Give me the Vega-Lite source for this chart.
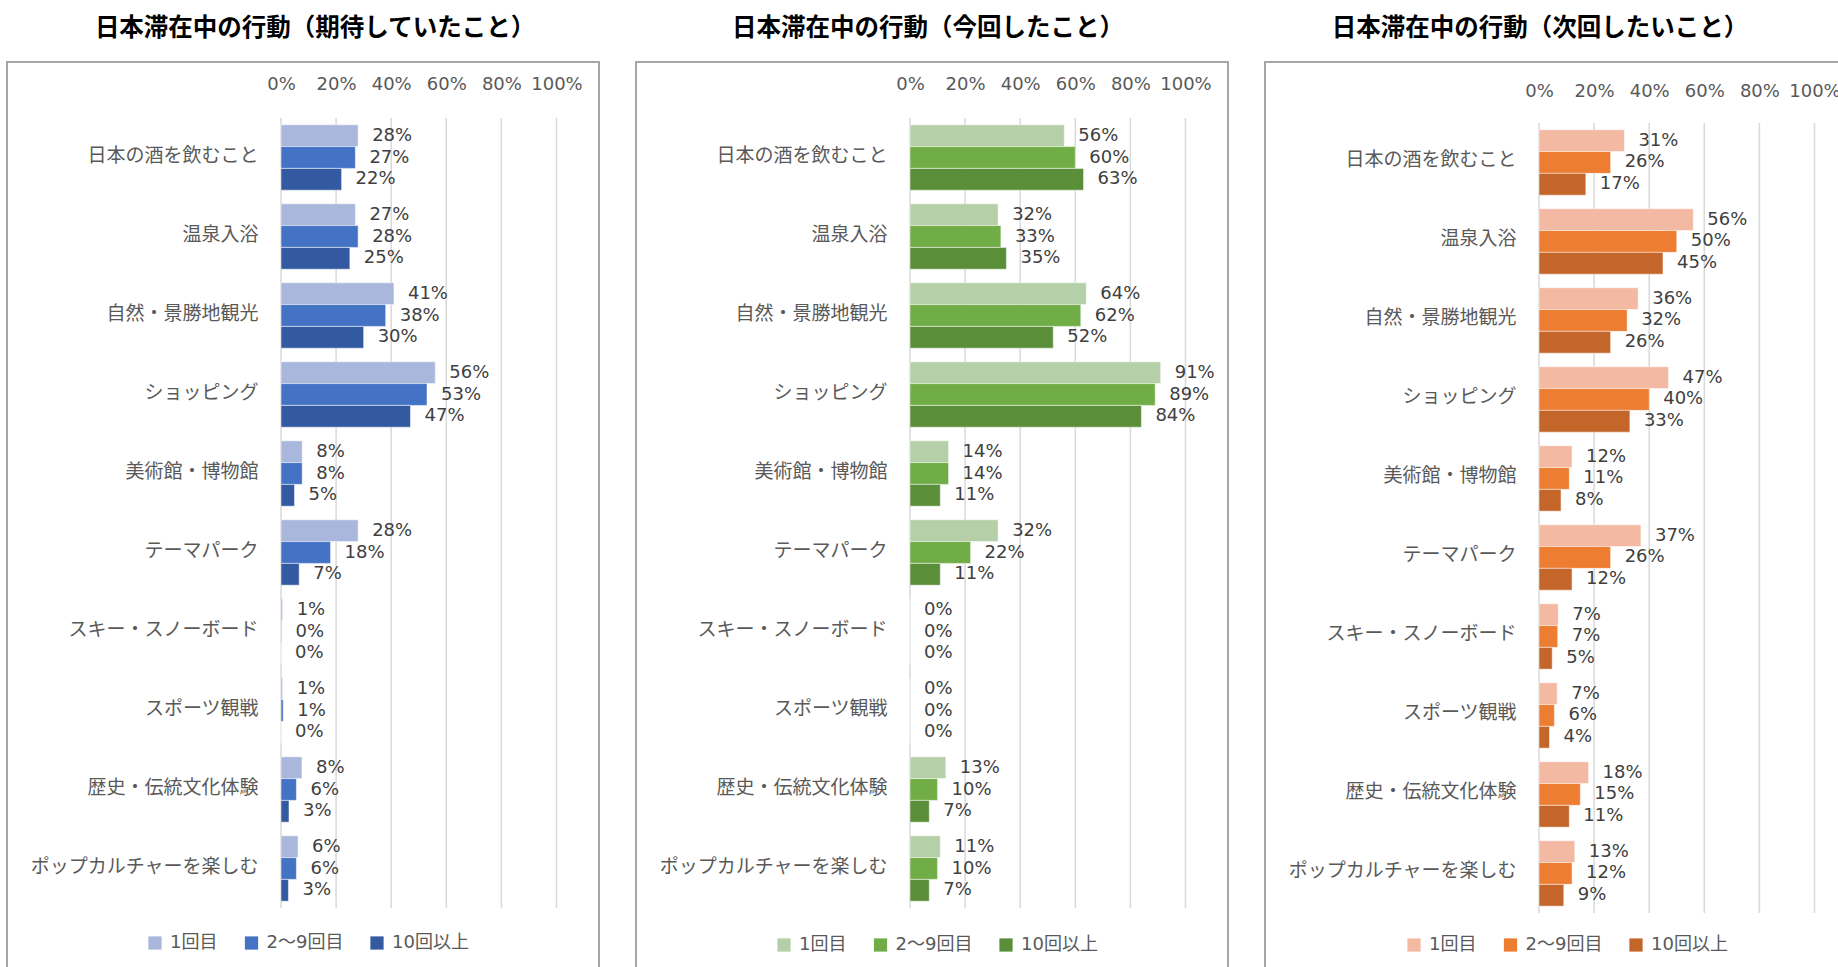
{
  "$schema": "https://vega.github.io/schema/vega-lite/v6.json",
  "padding": {"left": 6, "top": 14, "right": 0, "bottom": 0},
  "background": "#ffffff",
  "config": {
    "font": "DejaVu Sans, Noto Sans CJK JP",
    "view": {"stroke": "#A6A6A6", "strokeWidth": 2},
    "title": {"font": "Noto Sans CJK JP", "fontSize": 24.5, "fontWeight": "bold", "color": "#000000", "offset": 21, "frame": "group", "anchor": "middle"},
    "axis": {"labelFont": "DejaVu Sans, Noto Sans CJK JP", "labelFontSize": 18, "labelColor": "#595959", "domain": false, "ticks": false, "grid": false, "title": null, "labelPadding": 0},
    "legend": {"labelFont": "DejaVu Sans, Noto Sans CJK JP", "labelFontSize": 18, "labelColor": "#595959"}
  },
  "datasets": {
    "d": [
      {"p": 1, "c": "日本の酒を飲むこと", "g": "1回目", "v": 0.28},
      {"p": 1, "c": "日本の酒を飲むこと", "g": "2～9回目", "v": 0.27},
      {"p": 1, "c": "日本の酒を飲むこと", "g": "10回以上", "v": 0.22},
      {"p": 1, "c": "温泉入浴", "g": "1回目", "v": 0.27},
      {"p": 1, "c": "温泉入浴", "g": "2～9回目", "v": 0.28},
      {"p": 1, "c": "温泉入浴", "g": "10回以上", "v": 0.25},
      {"p": 1, "c": "自然・景勝地観光", "g": "1回目", "v": 0.41},
      {"p": 1, "c": "自然・景勝地観光", "g": "2～9回目", "v": 0.38},
      {"p": 1, "c": "自然・景勝地観光", "g": "10回以上", "v": 0.30},
      {"p": 1, "c": "ショッピング", "g": "1回目", "v": 0.56},
      {"p": 1, "c": "ショッピング", "g": "2～9回目", "v": 0.53},
      {"p": 1, "c": "ショッピング", "g": "10回以上", "v": 0.47},
      {"p": 1, "c": "美術館・博物館", "g": "1回目", "v": 0.077},
      {"p": 1, "c": "美術館・博物館", "g": "2～9回目", "v": 0.077},
      {"p": 1, "c": "美術館・博物館", "g": "10回以上", "v": 0.049},
      {"p": 1, "c": "テーマパーク", "g": "1回目", "v": 0.28},
      {"p": 1, "c": "テーマパーク", "g": "2～9回目", "v": 0.18},
      {"p": 1, "c": "テーマパーク", "g": "10回以上", "v": 0.066},
      {"p": 1, "c": "スキー・スノーボード", "g": "1回目", "v": 0.006},
      {"p": 1, "c": "スキー・スノーボード", "g": "2～9回目", "v": 0.002},
      {"p": 1, "c": "スキー・スノーボード", "g": "10回以上", "v": 0},
      {"p": 1, "c": "スポーツ観戦", "g": "1回目", "v": 0.006},
      {"p": 1, "c": "スポーツ観戦", "g": "2～9回目", "v": 0.008},
      {"p": 1, "c": "スポーツ観戦", "g": "10回以上", "v": 0},
      {"p": 1, "c": "歴史・伝統文化体験", "g": "1回目", "v": 0.076},
      {"p": 1, "c": "歴史・伝統文化体験", "g": "2～9回目", "v": 0.056},
      {"p": 1, "c": "歴史・伝統文化体験", "g": "10回以上", "v": 0.029},
      {"p": 1, "c": "ポップカルチャーを楽しむ", "g": "1回目", "v": 0.062},
      {"p": 1, "c": "ポップカルチャーを楽しむ", "g": "2～9回目", "v": 0.056},
      {"p": 1, "c": "ポップカルチャーを楽しむ", "g": "10回以上", "v": 0.027},
      {"p": 2, "c": "日本の酒を飲むこと", "g": "1回目", "v": 0.56},
      {"p": 2, "c": "日本の酒を飲むこと", "g": "2～9回目", "v": 0.60},
      {"p": 2, "c": "日本の酒を飲むこと", "g": "10回以上", "v": 0.63},
      {"p": 2, "c": "温泉入浴", "g": "1回目", "v": 0.32},
      {"p": 2, "c": "温泉入浴", "g": "2～9回目", "v": 0.33},
      {"p": 2, "c": "温泉入浴", "g": "10回以上", "v": 0.35},
      {"p": 2, "c": "自然・景勝地観光", "g": "1回目", "v": 0.64},
      {"p": 2, "c": "自然・景勝地観光", "g": "2～9回目", "v": 0.62},
      {"p": 2, "c": "自然・景勝地観光", "g": "10回以上", "v": 0.52},
      {"p": 2, "c": "ショッピング", "g": "1回目", "v": 0.91},
      {"p": 2, "c": "ショッピング", "g": "2～9回目", "v": 0.89},
      {"p": 2, "c": "ショッピング", "g": "10回以上", "v": 0.84},
      {"p": 2, "c": "美術館・博物館", "g": "1回目", "v": 0.14},
      {"p": 2, "c": "美術館・博物館", "g": "2～9回目", "v": 0.14},
      {"p": 2, "c": "美術館・博物館", "g": "10回以上", "v": 0.11},
      {"p": 2, "c": "テーマパーク", "g": "1回目", "v": 0.32},
      {"p": 2, "c": "テーマパーク", "g": "2～9回目", "v": 0.22},
      {"p": 2, "c": "テーマパーク", "g": "10回以上", "v": 0.11},
      {"p": 2, "c": "スキー・スノーボード", "g": "1回目", "v": 0},
      {"p": 2, "c": "スキー・スノーボード", "g": "2～9回目", "v": 0},
      {"p": 2, "c": "スキー・スノーボード", "g": "10回以上", "v": 0},
      {"p": 2, "c": "スポーツ観戦", "g": "1回目", "v": 0},
      {"p": 2, "c": "スポーツ観戦", "g": "2～9回目", "v": 0},
      {"p": 2, "c": "スポーツ観戦", "g": "10回以上", "v": 0},
      {"p": 2, "c": "歴史・伝統文化体験", "g": "1回目", "v": 0.13},
      {"p": 2, "c": "歴史・伝統文化体験", "g": "2～9回目", "v": 0.10},
      {"p": 2, "c": "歴史・伝統文化体験", "g": "10回以上", "v": 0.07},
      {"p": 2, "c": "ポップカルチャーを楽しむ", "g": "1回目", "v": 0.11},
      {"p": 2, "c": "ポップカルチャーを楽しむ", "g": "2～9回目", "v": 0.10},
      {"p": 2, "c": "ポップカルチャーを楽しむ", "g": "10回以上", "v": 0.07},
      {"p": 3, "c": "日本の酒を飲むこと", "g": "1回目", "v": 0.31},
      {"p": 3, "c": "日本の酒を飲むこと", "g": "2～9回目", "v": 0.26},
      {"p": 3, "c": "日本の酒を飲むこと", "g": "10回以上", "v": 0.17},
      {"p": 3, "c": "温泉入浴", "g": "1回目", "v": 0.56},
      {"p": 3, "c": "温泉入浴", "g": "2～9回目", "v": 0.50},
      {"p": 3, "c": "温泉入浴", "g": "10回以上", "v": 0.45},
      {"p": 3, "c": "自然・景勝地観光", "g": "1回目", "v": 0.36},
      {"p": 3, "c": "自然・景勝地観光", "g": "2～9回目", "v": 0.32},
      {"p": 3, "c": "自然・景勝地観光", "g": "10回以上", "v": 0.26},
      {"p": 3, "c": "ショッピング", "g": "1回目", "v": 0.47},
      {"p": 3, "c": "ショッピング", "g": "2～9回目", "v": 0.40},
      {"p": 3, "c": "ショッピング", "g": "10回以上", "v": 0.33},
      {"p": 3, "c": "美術館・博物館", "g": "1回目", "v": 0.12},
      {"p": 3, "c": "美術館・博物館", "g": "2～9回目", "v": 0.11},
      {"p": 3, "c": "美術館・博物館", "g": "10回以上", "v": 0.08},
      {"p": 3, "c": "テーマパーク", "g": "1回目", "v": 0.37},
      {"p": 3, "c": "テーマパーク", "g": "2～9回目", "v": 0.26},
      {"p": 3, "c": "テーマパーク", "g": "10回以上", "v": 0.12},
      {"p": 3, "c": "スキー・スノーボード", "g": "1回目", "v": 0.07},
      {"p": 3, "c": "スキー・スノーボード", "g": "2～9回目", "v": 0.068},
      {"p": 3, "c": "スキー・スノーボード", "g": "10回以上", "v": 0.048},
      {"p": 3, "c": "スポーツ観戦", "g": "1回目", "v": 0.066},
      {"p": 3, "c": "スポーツ観戦", "g": "2～9回目", "v": 0.056},
      {"p": 3, "c": "スポーツ観戦", "g": "10回以上", "v": 0.038},
      {"p": 3, "c": "歴史・伝統文化体験", "g": "1回目", "v": 0.18},
      {"p": 3, "c": "歴史・伝統文化体験", "g": "2～9回目", "v": 0.15},
      {"p": 3, "c": "歴史・伝統文化体験", "g": "10回以上", "v": 0.11},
      {"p": 3, "c": "ポップカルチャーを楽しむ", "g": "1回目", "v": 0.13},
      {"p": 3, "c": "ポップカルチャーを楽しむ", "g": "2～9回目", "v": 0.12},
      {"p": 3, "c": "ポップカルチャーを楽しむ", "g": "10回以上", "v": 0.09}
    ],
    "grid": [
      {"c": "日本の酒を飲むこと", "v": 0}, {"c": "日本の酒を飲むこと", "v": 0.2}, {"c": "日本の酒を飲むこと", "v": 0.4}, {"c": "日本の酒を飲むこと", "v": 0.6}, {"c": "日本の酒を飲むこと", "v": 0.8}, {"c": "日本の酒を飲むこと", "v": 1},
      {"c": "温泉入浴", "v": 0}, {"c": "温泉入浴", "v": 0.2}, {"c": "温泉入浴", "v": 0.4}, {"c": "温泉入浴", "v": 0.6}, {"c": "温泉入浴", "v": 0.8}, {"c": "温泉入浴", "v": 1},
      {"c": "自然・景勝地観光", "v": 0}, {"c": "自然・景勝地観光", "v": 0.2}, {"c": "自然・景勝地観光", "v": 0.4}, {"c": "自然・景勝地観光", "v": 0.6}, {"c": "自然・景勝地観光", "v": 0.8}, {"c": "自然・景勝地観光", "v": 1},
      {"c": "ショッピング", "v": 0}, {"c": "ショッピング", "v": 0.2}, {"c": "ショッピング", "v": 0.4}, {"c": "ショッピング", "v": 0.6}, {"c": "ショッピング", "v": 0.8}, {"c": "ショッピング", "v": 1},
      {"c": "美術館・博物館", "v": 0}, {"c": "美術館・博物館", "v": 0.2}, {"c": "美術館・博物館", "v": 0.4}, {"c": "美術館・博物館", "v": 0.6}, {"c": "美術館・博物館", "v": 0.8}, {"c": "美術館・博物館", "v": 1},
      {"c": "テーマパーク", "v": 0}, {"c": "テーマパーク", "v": 0.2}, {"c": "テーマパーク", "v": 0.4}, {"c": "テーマパーク", "v": 0.6}, {"c": "テーマパーク", "v": 0.8}, {"c": "テーマパーク", "v": 1},
      {"c": "スキー・スノーボード", "v": 0}, {"c": "スキー・スノーボード", "v": 0.2}, {"c": "スキー・スノーボード", "v": 0.4}, {"c": "スキー・スノーボード", "v": 0.6}, {"c": "スキー・スノーボード", "v": 0.8}, {"c": "スキー・スノーボード", "v": 1},
      {"c": "スポーツ観戦", "v": 0}, {"c": "スポーツ観戦", "v": 0.2}, {"c": "スポーツ観戦", "v": 0.4}, {"c": "スポーツ観戦", "v": 0.6}, {"c": "スポーツ観戦", "v": 0.8}, {"c": "スポーツ観戦", "v": 1},
      {"c": "歴史・伝統文化体験", "v": 0}, {"c": "歴史・伝統文化体験", "v": 0.2}, {"c": "歴史・伝統文化体験", "v": 0.4}, {"c": "歴史・伝統文化体験", "v": 0.6}, {"c": "歴史・伝統文化体験", "v": 0.8}, {"c": "歴史・伝統文化体験", "v": 1},
      {"c": "ポップカルチャーを楽しむ", "v": 0}, {"c": "ポップカルチャーを楽しむ", "v": 0.2}, {"c": "ポップカルチャーを楽しむ", "v": 0.4}, {"c": "ポップカルチャーを楽しむ", "v": 0.6}, {"c": "ポップカルチャーを楽しむ", "v": 0.8}, {"c": "ポップカルチャーを楽しむ", "v": 1}
    ]
  },
  "spacing": 35,
  "resolve": {"scale": {"x": "independent", "y": "independent", "color": "independent", "yOffset": "independent"}, "legend": {"color": "independent"}},
  "hconcat": [
    {
      "width": 592, "height": 910,
      "title": {"text": "日本滞在中の行動（期待していたこと）", "dx": 12},
      "encoding": {
        "x": {"field": "v", "type": "quantitative", "stack": null, "scale": {"domain": [-0.9946, 1.1543], "nice": false, "zero": false}, "axis": {"orient": "top", "values": [0, 0.2, 0.4, 0.6, 0.8, 1], "format": ".0%", "offset": -31.5, "labelFlush": false, "labelOverlap": false}},
        "y": {"field": "c", "type": "nominal", "sort": ["日本の酒を飲むこと","温泉入浴","自然・景勝地観光","ショッピング","美術館・博物館","テーマパーク","スキー・スノーボード","スポーツ観戦","歴史・伝統文化体験","ポップカルチャーを楽しむ"], "scale": {"paddingInner": 0, "paddingOuter": 0.7595, "align": 0.4667}, "axis": {"orient": "left", "offset": -251, "labelOffset": -2, "labelLimit": 0, "labelFontSize": 19}}
      },
      "layer": [
        {"data": {"name": "grid"}, "mark": {"type": "bar", "fillOpacity": 0, "stroke": "#D9D9D9", "strokeWidth": 1.5}, "encoding": {"x2": {"field": "v"}}},
        {"data": {"name": "d"}, "transform": [{"filter": "datum.p == 1"}],
         "mark": {"type": "bar", "stroke": "#ffffff", "strokeOpacity": 0.5, "strokeWidth": 1},
         "encoding": {
           "yOffset": {"field": "g", "type": "nominal", "sort": ["1回目", "2～9回目", "10回以上"], "scale": {"paddingInner": 0, "paddingOuter": 0.312}},
           "color": {"field": "g", "type": "nominal", "scale": {"domain": ["1回目", "2～9回目", "10回以上"], "range": ["#A9B7DC", "#4472C4", "#335AA0"]},
             "legend": {"orient": "none", "legendX": 139, "legendY": 872, "direction": "horizontal", "title": null, "symbolType": "square", "symbolSize": 175, "symbolStrokeWidth": 0, "labelOffset": 6, "columnPadding": 24.5, "padding": 0}}
         }},
        {"data": {"name": "d"}, "transform": [{"filter": "datum.p == 1"}],
         "mark": {"type": "text", "align": "left", "baseline": "middle", "dx": 14, "fontSize": 18, "color": "#404040", "font": "DejaVu Sans"},
         "encoding": {
           "yOffset": {"field": "g", "type": "nominal", "sort": ["1回目", "2～9回目", "10回以上"], "scale": {"paddingInner": 0, "paddingOuter": 0.312}},
           "text": {"field": "v", "type": "quantitative", "format": ".0%"}
         }}
      ]
    },
    {
      "width": 592, "height": 910,
      "title": {"text": "日本滞在中の行動（今回したこと）", "dx": -4},
      "encoding": {
        "x": {"field": "v", "type": "quantitative", "stack": null, "scale": {"domain": [-0.9946, 1.1543], "nice": false, "zero": false}, "axis": {"orient": "top", "values": [0, 0.2, 0.4, 0.6, 0.8, 1], "format": ".0%", "offset": -31.5, "labelFlush": false, "labelOverlap": false}},
        "y": {"field": "c", "type": "nominal", "sort": ["日本の酒を飲むこと","温泉入浴","自然・景勝地観光","ショッピング","美術館・博物館","テーマパーク","スキー・スノーボード","スポーツ観戦","歴史・伝統文化体験","ポップカルチャーを楽しむ"], "scale": {"paddingInner": 0, "paddingOuter": 0.7595, "align": 0.4667}, "axis": {"orient": "left", "offset": -251, "labelOffset": -2, "labelLimit": 0, "labelFontSize": 19}}
      },
      "layer": [
        {"data": {"name": "grid"}, "mark": {"type": "bar", "fillOpacity": 0, "stroke": "#D9D9D9", "strokeWidth": 1.5}, "encoding": {"x2": {"field": "v"}}},
        {"data": {"name": "d"}, "transform": [{"filter": "datum.p == 2"}],
         "mark": {"type": "bar", "stroke": "#ffffff", "strokeOpacity": 0.5, "strokeWidth": 1},
         "encoding": {
           "yOffset": {"field": "g", "type": "nominal", "sort": ["1回目", "2～9回目", "10回以上"], "scale": {"paddingInner": 0, "paddingOuter": 0.312}},
           "color": {"field": "g", "type": "nominal", "scale": {"domain": ["1回目", "2～9回目", "10回以上"], "range": ["#B5D0A8", "#70AD47", "#5A8E39"]},
             "legend": {"orient": "none", "legendX": 139, "legendY": 874, "direction": "horizontal", "title": null, "symbolType": "square", "symbolSize": 175, "symbolStrokeWidth": 0, "labelOffset": 6, "columnPadding": 24.5, "padding": 0}}
         }},
        {"data": {"name": "d"}, "transform": [{"filter": "datum.p == 2"}],
         "mark": {"type": "text", "align": "left", "baseline": "middle", "dx": 14, "fontSize": 18, "color": "#404040", "font": "DejaVu Sans"},
         "encoding": {
           "yOffset": {"field": "g", "type": "nominal", "sort": ["1回目", "2～9回目", "10回以上"], "scale": {"paddingInner": 0, "paddingOuter": 0.312}},
           "text": {"field": "v", "type": "quantitative", "format": ".0%"}
         }}
      ]
    },
    {
      "width": 592, "height": 910,
      "title": {"text": "日本滞在中の行動（次回したいこと）", "dx": -21},
      "encoding": {
        "x": {"field": "v", "type": "quantitative", "stack": null, "scale": {"domain": [-0.9946, 1.1543], "nice": false, "zero": false}, "axis": {"orient": "top", "values": [0, 0.2, 0.4, 0.6, 0.8, 1], "format": ".0%", "offset": -38, "labelFlush": false, "labelOverlap": false}},
        "y": {"field": "c", "type": "nominal", "sort": ["日本の酒を飲むこと","温泉入浴","自然・景勝地観光","ショッピング","美術館・博物館","テーマパーク","スキー・スノーボード","スポーツ観戦","歴史・伝統文化体験","ポップカルチャーを楽しむ"], "scale": {"paddingInner": 0, "paddingOuter": 0.7595, "align": 0.508}, "axis": {"orient": "left", "offset": -251, "labelOffset": -2, "labelLimit": 0, "labelFontSize": 19}}
      },
      "layer": [
        {"data": {"name": "grid"}, "mark": {"type": "bar", "fillOpacity": 0, "stroke": "#D9D9D9", "strokeWidth": 1.5}, "encoding": {"x2": {"field": "v"}}},
        {"data": {"name": "d"}, "transform": [{"filter": "datum.p == 3"}],
         "mark": {"type": "bar", "stroke": "#ffffff", "strokeOpacity": 0.5, "strokeWidth": 1},
         "encoding": {
           "yOffset": {"field": "g", "type": "nominal", "sort": ["1回目", "2～9回目", "10回以上"], "scale": {"paddingInner": 0, "paddingOuter": 0.312}},
           "color": {"field": "g", "type": "nominal", "scale": {"domain": ["1回目", "2～9回目", "10回以上"], "range": ["#F4B9A3", "#ED7D31", "#C4652A"]},
             "legend": {"orient": "none", "legendX": 140, "legendY": 874, "direction": "horizontal", "title": null, "symbolType": "square", "symbolSize": 175, "symbolStrokeWidth": 0, "labelOffset": 6, "columnPadding": 24.5, "padding": 0}}
         }},
        {"data": {"name": "d"}, "transform": [{"filter": "datum.p == 3"}],
         "mark": {"type": "text", "align": "left", "baseline": "middle", "dx": 14, "fontSize": 18, "color": "#404040", "font": "DejaVu Sans"},
         "encoding": {
           "yOffset": {"field": "g", "type": "nominal", "sort": ["1回目", "2～9回目", "10回以上"], "scale": {"paddingInner": 0, "paddingOuter": 0.312}},
           "text": {"field": "v", "type": "quantitative", "format": ".0%"}
         }}
      ]
    }
  ]
}
